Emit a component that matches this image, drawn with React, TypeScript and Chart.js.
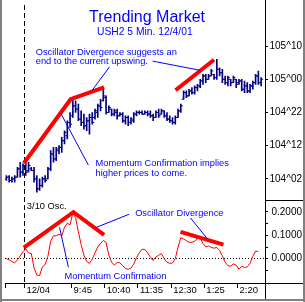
import { useEffect, useRef } from 'react';
import { Chart, registerables } from 'chart.js';
Chart.register(...registerables);

// ---- price bars (in 32nds above 104^00) ----
const highs = [3, 3, 2.5, 3, 5.5, 7, 6.5, 7.5, 7, 5.5, 5.5, 3, 2, 2.5, 3, 5.5, 10.5, 11.5, 11.5, 12, 14.5, 16.5, 19.5, 22, 26, 25.5, 24.5, 22.5, 21.5, 20.5, 21.5, 22, 23, 24.5, 26, 29, 27, 24, 23, 23, 23, 22, 22, 21, 21, 20.5, 22, 22.5, 22.5, 22.5, 22.5, 22.5, 22.5, 21.5, 22.5, 23, 23, 22.5, 22, 21, 20.5, 21, 23, 24.5, 28.5, 28.5, 29, 29.5, 30, 30.5, 32, 33.5, 33.5, 33.5, 35, 33.5, 38, 35.5, 35, 33, 33, 32, 33, 32, 32, 32, 31.5, 31, 30.5, 31.5, 33.5, 34.5, 32.5];
const lows = [1.5, 1, 1, 1, 2.5, 2.5, 3, 3, 4, 4.5, 1, -2, -1.5, -0.5, 1, 2, 4.5, 7, 7.5, 9.5, 10, 12.5, 14, 17.5, 20.5, 22, 19.5, 18, 17, 16.5, 15.5, 18.5, 20, 20.5, 22.5, 25.5, 21.5, 22, 21, 21, 20, 21, 19, 18.5, 18, 18.5, 19, 21, 21.5, 21.5, 21.5, 21, 20.5, 19.5, 20.5, 20.5, 21.5, 20.5, 19.5, 19, 18.5, 18.5, 20.5, 22, 26, 26.5, 27, 27.5, 27.5, 28.5, 29.5, 30.5, 31, 32, 33, 32, 32, 33, 31, 30.5, 30, 30, 31, 29.5, 30.5, 28.5, 28, 28, 28, 29, 30.5, 30.5, 30];
const opens = [2, 2.5, 1.5, 2, 2.5, 5, 4, 6, 4.5, 5, 4.5, 2, -1, 0, 2, 2, 5, 9.5, 8, 10.5, 11.5, 13.5, 15, 19, 21, 24, 23, 20, 19, 18, 19.5, 20.5, 20.5, 22, 24, 25.5, 26.5, 22, 23, 21.5, 22, 21, 21.5, 19.5, 20.5, 19, 19.5, 21.5, 22, 22, 21.5, 22, 21.5, 21, 20.5, 22, 21.5, 22.5, 21, 20, 19.5, 19, 20.5, 22.5, 26, 28, 27, 28.5, 28, 29.5, 30, 31.5, 33, 32, 33, 33.5, 32.5, 35, 34, 32, 31, 32, 31, 32, 31, 31.5, 29, 30, 28.5, 30, 31, 33, 31];
const closes = [2.5, 1.5, 2, 2.5, 5, 4, 6, 4, 6, 4.5, 2, -1, 0, 2, 1.5, 5, 9.5, 8, 11, 11.5, 13.5, 16, 19, 18.5, 24, 23, 20, 19, 18, 19.5, 20.5, 19, 22.5, 24, 23.5, 27, 22, 23.5, 21.5, 22.5, 21, 21.5, 19.5, 20.5, 19, 20, 21.5, 22, 22, 21.5, 22, 21.5, 21, 20.5, 22, 21, 22.5, 21, 20, 19.5, 19, 20.5, 22.5, 24, 28, 27, 28.5, 28, 29.5, 30, 31.5, 33, 32, 33, 34.5, 32.5, 35, 34, 32, 31, 32.5, 31, 32.5, 30.5, 31.5, 29, 30, 28.5, 30, 31, 33, 31, 32];

// ---- 3/10 oscillator ----
const osc = [0.0, -0.005, -0.012, -0.018, -0.005, 0.012, 0.03, 0.042, 0.025, 0.022, -0.04, -0.07, -0.072, -0.035, -0.025, 0.01, 0.075, 0.098, 0.098, 0.105, 0.098, 0.135, 0.152, 0.145, 0.196, 0.175, 0.115, 0.06, 0.015, -0.012, -0.02, -0.002, 0.025, 0.05, 0.065, 0.078, 0.07, 0.015, -0.015, -0.028, -0.015, -0.018, -0.03, -0.042, -0.045, -0.04, -0.023, 0.005, 0.025, 0.04, 0.04, 0.025, 0.007, -0.008, 0.007, 0.015, 0.021, 0.0, -0.015, -0.02, -0.018, 0.0, 0.05, 0.09, 0.084, 0.077, 0.07, 0.07, 0.075, 0.085, 0.088, 0.065, 0.05, 0.055, 0.048, 0.045, 0.048, 0.035, 0.012, -0.015, -0.03, -0.032, -0.022, -0.028, -0.045, -0.032, -0.038, -0.035, -0.02, 0.01, 0.033, 0.03];

// ---- axes ----
const timeTicks = [-0.5, 6.5, 23.5, 35.5, 47.5, 59.5, 71.5, 83.5];
const timeLabels = ['', '12/04', '9:45', '10:40', '11:35', '12:30', '1:25', '2:20'];
const priceTicks = [2, 12, 22, 32, 42];
const priceLabels = ['104^02', '104^12', '104^22', '105^00', '105^10'];
const oscTicks = [-0.05, 0, 0.05, 0.1, 0.15, 0.2];
const oscLabels = ['', '0.0000', '', '0.1000', '', '0.2000'];
const dayBreak = 6.5;

// ---- annotations (index, value) ----
const priceTrendA = [[6.3, 6.7], [23.2, 26], [35.3, 29.6]];
const priceTrendB = [[61.1, 28.7], [75, 37.9]];
const oscTrendA = [[6.3, 0.047], [24.2, 0.199], [35.3, 0.102]];
const oscTrendB = [[62.9, 0.115], [78.4, 0.06]];
const connPriceA = [[37.2, 35.7], [30.9, 28.6]];
const connPriceB = [[52.8, 37.5], [54.6, 37.2], [70.1, 34.7]];
const connPriceC = [[19.6, 21.85], [29.6, 6.15]];
const connOscA = [[44.3, 0.19], [32.5, 0.134]];
const connOscB = [[66.5, 0.174], [72.6, 0.085]];
const connOscC = [[19.2, 0.134], [22.4, -0.037]];

const notes = [
  { t: 'Trending Market', x: 50.8, y: 50.6, ax: 'y', c: '#0000ff', s: 16, a: 'center' },
  { t: 'USH2 5 Min. 12/4/01', x: 50.0, y: 46.1, ax: 'y', c: '#0000ff', s: 10.3, a: 'center' },
  { t: 'Oscillator Divergence suggests an', x: 10.6, y: 40.2, ax: 'y', c: '#0000ff', s: 9.3, a: 'left' },
  { t: 'end to the current upswing.', x: 10.6, y: 37.3, ax: 'y', c: '#0000ff', s: 9.3, a: 'left' },
  { t: 'Momentum Confirmation implies', x: 32.2, y: 6.74, ax: 'y', c: '#0000ff', s: 9.3, a: 'left' },
  { t: 'higher prices to come.', x: 32.2, y: 3.78, ax: 'y', c: '#0000ff', s: 9.3, a: 'left' },
  { t: 'Oscillator Divergence', x: 46.5, y: 0.192, ax: 'y2', c: '#0000ff', s: 9.3, a: 'left' },
  { t: 'Momentum Confirmation', x: 21, y: -0.074, ax: 'y2', c: '#0000ff', s: 9.3, a: 'left' },
  { t: '3/10 Osc.', x: 7.4, y: 0.224, ax: 'y2', c: '#000000', s: 9.3, a: 'left' },
];

const FONT = '"Liberation Sans", Arial, sans-serif';
const NAVY = '#000080';
const RED = '#ff0000';
const BLUE = '#0000ff';

export default function App() {
  const ref = useRef<HTMLCanvasElement>(null);
  useEffect(() => {
    document.body.style.margin = '0';
    const canvas = ref.current!;
    const pts = (a: number[][]) => a.map((p) => ({ x: p[0], y: p[1] }));
    const lineDs = (a: number[][], axis: string, color: string, w: number) => ({
      type: 'line' as const,
      data: pts(a),
      yAxisID: axis,
      borderColor: color,
      borderWidth: w,
      pointRadius: 0,
      tension: 0,
      fill: false,
      borderCapStyle: 'butt' as const,
    });
    const deco = {
      id: 'deco',
      beforeDraw(c: any) {
        const ctx = c.ctx;
        ctx.save();
        ctx.fillStyle = '#ffffff';
        ctx.fillRect(0, 0, c.width, c.height);
        ctx.restore();
      },
      beforeDatasetsDraw(c: any) {
        const { ctx, chartArea: a, scales } = c;
        ctx.save();
        ctx.strokeStyle = '#000';
        ctx.lineWidth = 1;
        const xd = Math.floor(scales.x.getPixelForValue(dayBreak)) + 0.5;
        ctx.setLineDash([5, 3]);
        ctx.beginPath();
        ctx.moveTo(xd, a.top);
        ctx.lineTo(xd, a.bottom);
        ctx.stroke();
        const yz = Math.floor(scales.y2.getPixelForValue(0)) + 0.5;
        ctx.setLineDash([1, 2]);
        ctx.beginPath();
        ctx.moveTo(a.left, yz);
        ctx.lineTo(a.right, yz);
        ctx.stroke();
        ctx.restore();
      },
      afterDatasetsDraw(c: any) {
        const { ctx, scales } = c;
        ctx.save();
        ctx.textBaseline = 'middle';
        for (const n of notes) {
          ctx.font = `${n.s}px ${FONT}`;
          ctx.fillStyle = n.c;
          ctx.textAlign = n.a;
          ctx.fillText(n.t, scales.x.getPixelForValue(n.x), scales[n.ax].getPixelForValue(n.y));
        }
        ctx.restore();
      },
      afterDraw(c: any) {
        const { ctx, chartArea: a, scales } = c;
        const W = c.width, H = c.height;
        ctx.save();
        ctx.strokeStyle = '#000';
        ctx.lineWidth = 1;
        const xr = Math.round(a.right) + 0.5;
        const yb = Math.round(a.bottom) + 0.5;
        const ys = Math.round(scales.y.bottom) + 0.5;
        ctx.beginPath();
        ctx.moveTo(xr, 0);
        ctx.lineTo(xr, H - 3);
        ctx.moveTo(a.left, yb);
        ctx.lineTo(W - 2, yb);
        ctx.moveTo(xr, ys);
        ctx.lineTo(W - 2, ys);
        ctx.stroke();
        ctx.fillStyle = '#808080';
        ctx.fillRect(0, 0, 2, H);
        ctx.fillRect(W - 2, 0, 2, H);
        ctx.fillRect(0, H - 3, W, 2);
        ctx.restore();
      },
    };

    const yCommon = (ticks: number[], labels: string[]) => ({
      type: 'linear' as const,
      position: 'right' as const,
      stack: 'panels',
      grid: { drawOnChartArea: false, drawTicks: true, tickLength: 3, color: '#000' },
      border: { display: false },
      ticks: {
        crossAlign: 'far' as const,
        padding: 2,
        color: '#000',
        font: { size: 10, family: FONT },
        autoSkip: false,
        callback: (_v: any, i: number) => labels[i],
      },
      afterBuildTicks: (s: any) => {
        s.ticks = ticks.map((v) => ({ value: v }));
      },
      afterFit: (s: any) => {
        s.width = 37;
        s.paddingTop = 0;
        s.paddingBottom = 0;
      },
    });

    const chart = new Chart(canvas, {
      type: 'line',
      data: {
        datasets: [
          lineDs(connPriceA, 'y', BLUE, 1),
          lineDs(connPriceB, 'y', BLUE, 1),
          lineDs(connPriceC, 'y', BLUE, 1),
          lineDs(connOscA, 'y2', BLUE, 1),
          lineDs(connOscB, 'y2', BLUE, 1),
          lineDs(connOscC, 'y2', BLUE, 1),
          lineDs(priceTrendA, 'y', RED, 4),
          lineDs(priceTrendB, 'y', RED, 4),
          lineDs(oscTrendA, 'y2', RED, 4),
          lineDs(oscTrendB, 'y2', RED, 4),
          {
            type: 'line' as const,
            data: opens.map((v, i) => ({ x: i - 0.36, y: v })),
            yAxisID: 'y',
            showLine: false,
            pointStyle: 'line',
            pointRadius: 1,
            pointBorderWidth: 1,
            pointBorderColor: NAVY,
            borderColor: NAVY,
          },
          {
            type: 'line' as const,
            data: closes.map((v, i) => ({ x: i + 0.36, y: v })),
            yAxisID: 'y',
            showLine: false,
            pointStyle: 'line',
            pointRadius: 1,
            pointBorderWidth: 1,
            pointBorderColor: NAVY,
            borderColor: NAVY,
          },
          {
            type: 'bar' as const,
            data: highs.map((h, i) => ({ x: i, y: [lows[i], h] })),
            yAxisID: 'y',
            backgroundColor: NAVY,
            borderWidth: 0,
            barThickness: 1,
            grouped: false,
          },
          {
            type: 'line' as const,
            data: osc.map((v, i) => ({ x: i, y: v })),
            yAxisID: 'y2',
            borderColor: RED,
            borderWidth: 1,
            pointRadius: 0,
            tension: 0,
            fill: false,
          },
        ] as any,
      },
      options: {
        responsive: false,
        maintainAspectRatio: false,
        devicePixelRatio: 1,
        animation: false,
        events: [],
        layout: { padding: { left: 3, right: 3, top: 0, bottom: 0 } },
        plugins: { legend: { display: false }, tooltip: { enabled: false }, title: { display: false } },
        scales: {
          x: {
            type: 'linear',
            min: -0.5,
            max: 93.4,
            offset: false,
            grid: { offset: false, drawOnChartArea: false, drawTicks: true, tickLength: 5, color: '#000' },
            border: { display: false },
            ticks: {
              align: 'start',
              labelOffset: 2,
              padding: -3,
              maxRotation: 0,
              autoSkip: false,
              color: '#000',
              font: { size: 9.5, family: FONT },
              callback: (_v: any, i: number) => timeLabels[i],
            },
            afterBuildTicks: (s: any) => {
              s.ticks = timeTicks.map((v) => ({ value: v }));
            },
            afterFit: (s: any) => {
              s.height = 19;
              s.paddingLeft = 0;
              s.paddingRight = 0;
            },
          },
          y: { ...yCommon(priceTicks, priceLabels), min: -4.52, max: 54.4, stackWeight: 199 },
          y2: { ...yCommon(oscTicks, oscLabels), min: -0.104, max: 0.249, stackWeight: 84 },
        } as any,
      },
      plugins: [deco],
    });
    return () => chart.destroy();
  }, []);
  return <canvas ref={ref} width={305} height={302} style={{ display: 'block', width: 305, height: 302 }} />;
}
